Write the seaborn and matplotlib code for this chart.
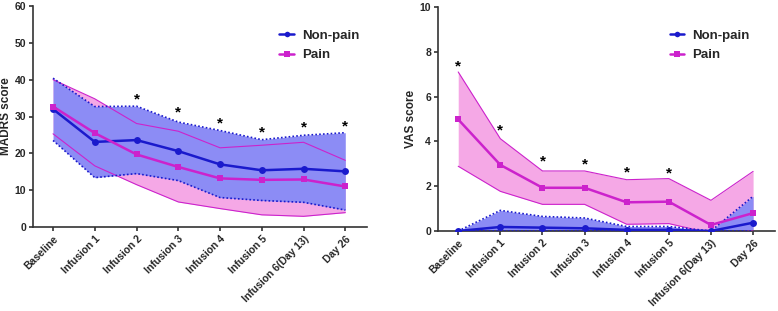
import matplotlib
matplotlib.use("Agg")
import matplotlib.pyplot as plt
import seaborn as sns
import pandas as pd
import numpy as np
from matplotlib.lines import Line2D

timepoints = ["Baseline", "Infusion 1", "Infusion 2", "Infusion 3", "Infusion 4",
              "Infusion 5", "Infusion 6(Day 13)", "Day 26"]

# MADRS
madrs_nonpain_mean = [32.0, 23.1, 23.6, 20.6, 17.0, 15.4, 15.8, 15.1]
madrs_nonpain_upper = [40.4, 32.7, 32.8, 28.5, 26.2, 23.7, 24.9, 25.6]
madrs_nonpain_lower = [23.5, 13.4, 14.5, 12.6, 8.0, 7.2, 6.7, 4.6]
madrs_pain_mean = [32.7, 25.5, 19.7, 16.3, 13.2, 12.8, 12.9, 11.0]
madrs_pain_upper = [40.0, 34.8, 28.1, 26.0, 21.5, 22.2, 23.0, 18.1]
madrs_pain_lower = [25.3, 16.6, 11.5, 6.8, 5.0, 3.3, 2.9, 3.9]
madrs_star_idx = [2, 3, 4, 5, 6, 7]
madrs_star_y = [34.6, 31.0, 28.2, 25.8, 26.9, 27.4]

# VAS
vas_nonpain_mean = [0.0, 0.18, 0.15, 0.12, 0.05, 0.05, 0.0, 0.37]
vas_nonpain_upper = [0.0, 0.92, 0.65, 0.58, 0.2, 0.2, 0.0, 1.55]
vas_nonpain_lower = [0.0, 0.0, 0.0, 0.0, 0.0, 0.0, 0.0, 0.0]
vas_pain_mean = [4.98, 2.95, 1.93, 1.93, 1.28, 1.31, 0.27, 0.80]
vas_pain_upper = [7.1, 4.12, 2.68, 2.68, 2.29, 2.34, 1.37, 2.66]
vas_pain_lower = [2.89, 1.77, 1.19, 1.19, 0.30, 0.33, -0.1, 0.0]
vas_star_idx = [0, 1, 2, 3, 4, 5]
vas_star_y = [7.35, 4.5, 3.1, 2.98, 2.6, 2.58]

groups = ["Non-pain", "Pain"]

BLUE = "#1a1acc"
MAG = "#cc22cc"
BLUE_FILL = "#8c8cf5"
PINK_FILL = "#f5a8e6"

sns.set_style("ticks")
plt.rcParams["font.family"] = ["Liberation Sans", "DejaVu Sans"]
plt.rcParams["font.weight"] = "bold"

fig = plt.figure(figsize=(7.78, 3.11), dpi=100)
axL = fig.add_axes([33/778, 1-227/311, 334/778, 221/311])
axR = fig.add_axes([438/778, 1-231/311, 337/778, 224/311])

def panel(ax, np_mean, np_up, np_lo, p_mean, p_up, p_lo, star_idx, star_y,
          ylim, yticks, ylabel, leg_y):
    x = np.arange(len(timepoints))
    ax.fill_between(x, p_lo, p_up, color=PINK_FILL, lw=0, zorder=1)
    ax.fill_between(x, np_lo, np_up, color=BLUE_FILL, lw=0, zorder=2)
    ax.plot(x, p_up, color=MAG, lw=0.8, zorder=3)
    ax.plot(x, p_lo, color=MAG, lw=0.8, zorder=3)
    ax.plot(x, np_up, color=BLUE, lw=1.2, ls=(0, (1, 1.3)), zorder=3)
    ax.plot(x, np_lo, color=BLUE, lw=1.2, ls=(0, (1, 1.3)), zorder=3)
    df = pd.DataFrame({
        "x": np.concatenate([x, x]),
        "y": np.concatenate([np_mean, p_mean]),
        "group": [groups[0]] * len(x) + [groups[1]] * len(x),
    })
    sns.lineplot(data=df, x="x", y="y", hue="group", style="group",
                 palette={"Non-pain": BLUE, "Pain": MAG},
                 markers={"Non-pain": "o", "Pain": "s"}, dashes=False,
                 markersize=5, markeredgewidth=0, lw=1.8, ax=ax, legend=False,
                 zorder=5)
    for i, yy in zip(star_idx, star_y):
        ax.text(i, yy, "*", ha="center", va="center", fontsize=11,
                fontweight="bold", color="black", zorder=6)
    ax.set_xlim(-0.48, 7.52)
    ax.set_ylim(*ylim)
    ax.set_yticks(yticks)
    ax.set_yticklabels([str(t) for t in yticks], fontsize=7.5, fontweight="bold")
    ax.set_xticks(x)
    ax.set_xticklabels(timepoints, rotation=45, ha="right", rotation_mode="anchor",
                       fontsize=7.5, fontweight="bold")
    ax.set_xlabel("")
    ax.set_ylabel(ylabel, fontsize=8.5, fontweight="bold", labelpad=1.5)
    for s in ["top", "right"]:
        ax.spines[s].set_visible(False)
    for s in ["left", "bottom"]:
        ax.spines[s].set_linewidth(1.2)
        ax.spines[s].set_color("#333333")
    ax.tick_params(axis="both", length=3, width=1.2, color="#333333", pad=2)
    handles = [
        Line2D([], [], color=BLUE, marker="o", markersize=4, lw=1.8, markeredgewidth=0),
        Line2D([], [], color=MAG, marker="s", markersize=4, lw=1.8, markeredgewidth=0),
    ]
    leg = ax.legend(handles, groups, loc="upper left", bbox_to_anchor=leg_y,
                    frameon=False, fontsize=9.5, handlelength=1.1,
                    handletextpad=0.6, labelspacing=0.55, borderpad=0.2)
    for t in leg.get_texts():
        t.set_fontweight("bold")

panel(axL, madrs_nonpain_mean, madrs_nonpain_upper, madrs_nonpain_lower,
      madrs_pain_mean, madrs_pain_upper, madrs_pain_lower,
      madrs_star_idx, madrs_star_y, (0, 60), [0, 10, 20, 30, 40, 50, 60],
      "MADRS score", (0.71, 0.935))
panel(axR, vas_nonpain_mean, vas_nonpain_upper, vas_nonpain_lower,
      vas_pain_mean, vas_pain_upper, vas_pain_lower,
      vas_star_idx, vas_star_y, (0, 10), [0, 2, 4, 6, 8, 10],
      "VAS score", (0.66, 0.94))

fig.savefig("out.png", dpi=100)
